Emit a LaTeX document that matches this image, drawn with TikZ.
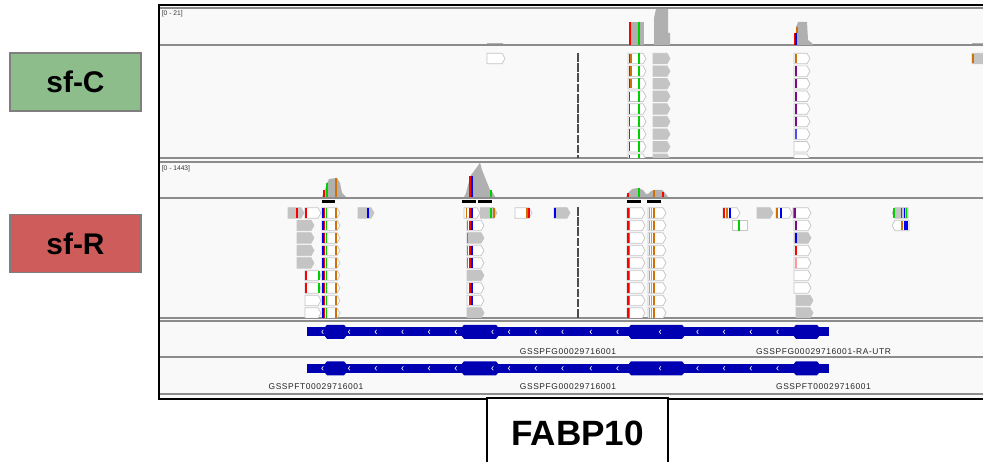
\documentclass[tikz,border=0pt]{standalone}
\usepackage{fontspec}
\setmainfont{Liberation Sans}
\newfontfamily\igvfont[LetterSpace=7]{Liberation Sans}
\usetikzlibrary{positioning}
\definecolor{panelbg}{HTML}{F9F9F9}
\definecolor{sepgray}{HTML}{8C8C8C}
\definecolor{covgray}{HTML}{B0B0B0}
\definecolor{rdgray}{HTML}{C4C4C4}
\definecolor{rdedge}{HTML}{C4C4C4}
\definecolor{igvgreen}{HTML}{00D000}
\definecolor{igvblue}{HTML}{0000F0}
\definecolor{rdorange}{HTML}{D17105}
\definecolor{rdpurple}{HTML}{7A0A8A}
\definecolor{genebl}{HTML}{0000B2}
\definecolor{sfcgreen}{HTML}{8DBD8B}
\definecolor{sfrred}{HTML}{CD5C5A}
\definecolor{boxedge}{HTML}{7F7F7F}
\tikzset{Browser/.style = {% track view styles
     sample/.style = {draw=boxedge, line width=1pt, minimum width=2.62cm,
                      minimum height=1.16cm, font=\fontsize{17}{17}\selectfont\bfseries},
      genebox/.style = {draw=black, fill=white, line width=1pt, minimum width=3.62cm,
                      minimum height=1.4cm, font=\fontsize{20}{20}\selectfont\bfseries},
   rangelbl/.style = {anchor=west, inner sep=0pt, font=\fontsize{3.8}{4}\selectfont, text=black!80},
     feature/.style = {inner sep=0pt, font=\igvfont\fontsize{4.8}{5}\selectfont, text=black!85},
        sep/.style = {sepgray, line width=0.6pt},
      rdbox/.style = {draw=rdedge, line width=0.4pt},
     mmline/.style = {line width=1pt},
       cov/.style = {fill=covgray},
     dashvert/.style = {black!70, line width=0.6pt, dash pattern=on 5pt off 0.8pt},
      chev/.style = {white, line width=0.35pt}}
        }
% read pointing right: [fill]{x1}{x2}{ytop}
\newcommand{\rdR}[4][white]{\filldraw[rdbox, fill=#1] (#2,#4) -- ({#3-3},#4) -- (#3,{#4+5.25}) -- ({#3-3},{#4+10.5}) -- (#2,{#4+10.5}) -- cycle;}
% read pointing left
\newcommand{\rdL}[4][white]{\filldraw[rdbox, fill=#1] (#2,{#4+5.25}) -- ({#2+3},#4) -- (#3,#4) -- (#3,{#4+10.5}) -- ({#2+3},{#4+10.5}) -- cycle;}
% mismatch: {colour}{x}{ytop}
\newcommand{\mm}[3]{\draw[mmline, #1] (#2,{#3+0.6}) -- (#2,{#3+9.9});}
% gene model at centre line y
\newcommand{\genemodel}[1]{%
  \fill[genebl] (307,{#1-4.6}) rectangle (829,{#1+4.6});
  \foreach \a/\b in {327/344,464/496,631/682,796/817}
    \fill[genebl] ({\a-2},{#1-4.6}) -- (\a,{#1-7}) -- (\b,{#1-7}) -- ({\b+2},{#1-4.6}) -- ({\b+2},{#1+4.6}) -- (\b,{#1+7}) -- (\a,{#1+7}) -- ({\a-2},{#1+4.6}) -- cycle;
  \foreach \c in {321.7,348.3,375,401.7,428.3,455,491.7,508.3,535,561.7,590,616.7,659.3,696.7,723.3,750,776.7}
    \draw[chev] ({\c+1.6},{#1-2}) -- (\c,#1) -- ({\c+1.6},{#1+2});}

\begin{document}
\begin{tikzpicture}[Browser, x=0.02cm, y=-0.02cm]
\useasboundingbox[fill=white] (0,0) rectangle (983,462);

% panel
\fill[panelbg] (158,5) rectangle (990,399);
\foreach \s in {8,45,158,162,198,318,321,357,394}
  \draw[sep] (159,\s) -- (990,\s);

% coverage sf-C
\draw[covgray, line width=0.6pt] (487,43.5) -- (503,43.5);
\fill[cov] (629,22) rectangle (644,45);
\draw[mmline, red] (630,22) -- (630,45);
\draw[igvgreen, line width=0.6pt] (639,22) -- (639,45);
\fill[cov] (654,45) -- (654,18) -- (656,9) -- (668,9) -- (668,33) -- (670,33) -- (670,45) -- cycle;
\fill[cov] (794,45) -- (794,33) -- (796,33) -- (796,27) -- (798,22) -- (807,22) -- (808,40) -- (813,44) -- (813,45) -- cycle;
\draw[mmline, red] (794.5,33) -- (794.5,45);
\draw[mmline, igvblue] (796,33) -- (796,45);
\draw[mmline, rdorange] (797,27) -- (797,33);
\draw[covgray, line width=0.6pt] (972,43.5) -- (983,43.5);

% reads sf-C
\begin{scope}
\clip (160,46) rectangle (983,157.4);
\draw[dashvert] (578,53) -- (578,158);
\foreach \r in {0,...,8}{
  \pgfmathsetmacro{\y}{53.3+12.6*\r}
  \rdR{628}{646}{\y} \mm{red}{629.6}{\y} \draw[igvgreen, line width=0.6pt] (639,\y) -- (639,{\y+10.5});
  \rdR[rdgray]{653}{670}{\y}
  \rdR{794}{810}{\y}
}
\foreach \r in {0,1,2}{\pgfmathsetmacro{\y}{53.3+12.6*\r} \mm{rdorange}{631}{\y}}
\foreach \r in {1,...,5}{\pgfmathsetmacro{\y}{53.3+12.6*\r} \mm{rdpurple}{795.8}{\y}}
\mm{rdorange}{795.8}{53.3} \mm{igvblue!70}{795.8}{128.9}
\rdR{487}{505}{53.3}
\rdR[rdgray]{972}{995}{53.3} \mm{rdorange}{973}{53.3}
\end{scope}

% coverage sf-R
\fill[cov] (322,197) -- (325,190) -- (327,183) -- (329,179) -- (337,178) -- (340,183) -- (342,193) -- (346,197) -- cycle;
\draw[mmline, red] (324,190) -- (324,197);
\draw[mmline, igvgreen] (327,183) -- (327,197);
\draw[mmline, rdorange] (336,178) -- (336,197);
\fill[cov] (464,197) -- (466,193) -- (468,185) -- (471,175) -- (477,167) -- (480,162.5) -- (482,170) -- (486,180) -- (490,190) -- (493,193) -- (495,197) -- cycle;
\draw[mmline, red] (470,176) -- (470,197);
\draw[mmline, igvblue] (472,176) -- (472,197);
\draw[mmline, igvgreen] (491,190) -- (491,197);
\fill[cov] (626,197) -- (628,193) -- (632,189) -- (638,188) -- (643,190) -- (646,194) -- (648,194) -- (651,191) -- (655,190) -- (662,190) -- (665,193) -- (668,197) -- cycle;
\draw[mmline, red] (628,193) -- (628,197);
\draw[igvgreen, line width=0.6pt] (639,188) -- (639,197);
\draw[mmline, rdorange] (654,190) -- (654,197);
\draw[mmline, red] (663,192) -- (663,197);
\foreach \a/\b in {322/335,462/476,478/492,627/641,647/661}
  \fill[black] (\a,200) rectangle (\b,203);

% reads sf-R
\begin{scope}
\clip (160,199) rectangle (983,317.4);
\draw[dashvert] (578,207) -- (578,318);
\foreach \r in {0,...,8}{
  \pgfmathsetmacro{\y}{207.7+12.5*\r}
  \rdR{322}{340}{\y} \mm{igvblue}{323}{\y} \mm{red}{324.6}{\y} \mm{igvgreen}{326.5}{\y} \mm{rdorange}{336}{\y}
  \rdR{627}{645}{\y} \mm{red}{628}{\y} \mm{rdorange}{629.4}{\y}
  \rdR{648}{666}{\y} \mm{red!50}{649.5}{\y} \mm{red!50}{651.5}{\y} \mm{rdorange}{654}{\y}
}
% row 0
\rdR[rdgray]{288}{304}{207.7} \mm{red}{297}{207.7}
\rdR{305}{321}{207.7} \mm{red}{306.2}{207.7}
\rdR[rdgray]{358}{374}{207.7} \mm{igvblue}{368}{207.7}
\rdR{464}{480}{207.7} \mm{rdorange}{466.5}{207.7} \mm{red}{470}{207.7} \mm{igvblue}{471.8}{207.7}
\rdR[rdgray]{480.5}{497}{207.7} \mm{igvgreen}{491}{207.7} \mm{rdorange}{494.3}{207.7}
\rdR{515}{532}{207.7} \mm{rdorange}{527}{207.7} \mm{red}{529}{207.7}
\rdR[rdgray]{554}{570}{207.7} \mm{igvblue}{554.8}{207.7}
\rdR{723}{740}{207.7} \mm{red}{724}{207.7} \mm{rdorange}{727}{207.7} \mm{igvblue}{730}{207.7}
\rdR[rdgray]{757}{773}{207.7}
\rdR{776}{792}{207.7} \mm{rdorange}{777}{207.7} \mm{igvblue}{781}{207.7}
\rdR{793}{811}{207.7} \mm{rdorange}{794}{207.7} \mm{rdpurple}{795.3}{207.7}
\rdL[rdgray]{892}{908}{207.7} \mm{igvgreen}{894}{207.7} \mm{red}{901.5}{207.7} \mm{igvblue}{904.5}{207.7} \mm{igvgreen}{906.5}{207.7}
% row 1
\filldraw[rdbox, fill=white] (732,220.2) rectangle (747,230.7);
\draw[igvgreen, line width=0.6pt] (739,220.2) -- (739,230.7);
\rdL{892}{909}{220.2} \mm{rdorange}{902}{220.2} \mm{igvblue}{905}{220.2} \mm{igvblue}{907}{220.2}
% column left of the first exon
\foreach \r in {1,...,4}{\pgfmathsetmacro{\y}{207.7+12.5*\r} \rdR[rdgray]{297}{314}{\y}}
\foreach \r in {5,...,8}{\pgfmathsetmacro{\y}{207.7+12.5*\r} \rdR{305}{321}{\y}}
\foreach \r in {5,6}{\pgfmathsetmacro{\y}{207.7+12.5*\r} \mm{red}{306.2}{\y} \mm{igvgreen}{319}{\y}}
% column at the second exon
\foreach \r/\f in {1/white,2/rdgray,3/white,4/white,5/rdgray,6/white,7/white,8/rdgray}{
  \pgfmathsetmacro{\y}{207.7+12.5*\r} \rdR[\f]{467}{484}{\y}}
\foreach \r in {1,3,4,6,7}{\pgfmathsetmacro{\y}{207.7+12.5*\r} \mm{red}{470}{\y} \mm{igvblue}{472}{\y}}
\foreach \r in {1,2,3,4}{\pgfmathsetmacro{\y}{207.7+12.5*\r} \mm{rdorange}{467.6}{\y}}
% column at the last exon
\foreach \r/\f in {1/white,2/rdgray,3/white,4/white,5/white,6/white}{
  \pgfmathsetmacro{\y}{207.7+12.5*\r} \rdR[\f]{794}{811}{\y}}
\foreach \r in {7,8}{\pgfmathsetmacro{\y}{207.7+12.5*\r} \rdR[rdgray]{796}{813}{\y}}
\mm{rdpurple}{795.8}{220.2} \mm{igvblue}{795.8}{232.7} \mm{red}{795.8}{245.2} \mm{red!40}{795.8}{257.7}
\end{scope}

% gene tracks
\genemodel{331.8}
\genemodel{368.3}
\node (lblG1)  [feature] at (568,352) {GSSPFG00029716001};
\node (lblUTR) [feature] at (823.5,352) {GSSPFG00029716001-RA-UTR};
\node (lblT1)  [feature] at (316,387) {GSSPFT00029716001};
\node (lblG2)  [feature] at (568,387) {GSSPFG00029716001};
\node (lblT2)  [feature] at (823.5,387) {GSSPFT00029716001};

% data ranges
\node (rangeC) [rangelbl] at (161.5,14) {[0 - 21]};
\node (rangeR) [rangelbl] at (161.5,169) {[0 - 1443]};

% frame
\draw[line width=1.2pt] (990,5) -- (158.6,5) -- (158.6,399) -- (990,399);

% nodes
\node (sfC)  [sample, fill=sfcgreen] at (75.5,82) {sf-C};
\node (sfR)  [sample, fill=sfrred]   at (75.5,243.5) {sf-R};
\node (fabp) [genebox] at (577.5,433) {FABP10};
\end{tikzpicture}
\end{document}
